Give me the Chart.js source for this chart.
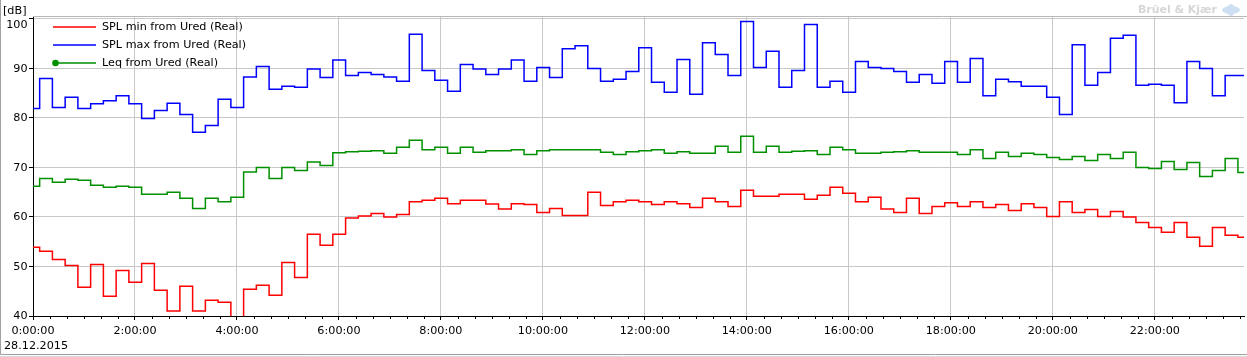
<!DOCTYPE html>
<html>
<head>
<meta charset="utf-8">
<script src="https://cdn.jsdelivr.net/npm/chart.js@4.4.1/dist/chart.umd.min.js"></script>
<style>
  html, body { margin: 0; padding: 0; background: #fff; }
  #wrap { width: 1247px; height: 357px; position: relative; }
</style>
</head>
<body>
<div id="wrap"><canvas id="c"></canvas></div>
<script>
// ---- data ----
const dateLabel = '28.12.2015';
const yUnit = '[dB]';
const seriesNames = ['SPL min from Ured (Real)', 'SPL max from Ured (Real)', 'Leq from Ured (Real)'];
const yTicks = [40, 50, 60, 70, 80, 90, 100];
const xTickLabels = ['0:00:00','2:00:00','4:00:00','6:00:00','8:00:00','10:00:00','12:00:00','14:00:00','16:00:00','18:00:00','20:00:00','22:00:00'];

// interval timing (minutes from 0:00:00)
const firstBoundaryMin = 7.83;
const intervalMin = 15;
const axisEndMin = 1425;

const splMin = [
  53.9, 53.1, 51.4, 50.2, 45.8, 50.4, 44.0, 49.2, 46.8, 50.6, 45.2, 41.0, 46.0, 41.0, 43.2, 42.8, 38.0, 45.4, 46.2, 44.2,
  50.8, 47.8, 56.5, 54.3, 56.5, 59.8, 60.2, 60.7, 60.0, 60.5, 63.1, 63.4, 63.8, 62.7, 63.4, 63.4, 62.6, 61.6, 62.7,
  62.5, 60.9, 61.7, 60.3, 60.3, 65.0, 62.3, 63.1, 63.4, 63.1, 62.5, 63.1, 62.7, 61.9, 63.8, 63.1, 62.1, 65.4, 64.2,
  64.2, 64.6, 64.6, 63.6, 64.4, 66.0, 64.8, 63.1, 64.0, 61.6, 60.9, 63.8, 60.7, 62.1, 62.9, 62.1, 63.1, 61.9, 62.5,
  61.3, 62.7, 61.9, 60.1, 63.1, 60.9, 61.5, 60.1, 61.1, 60.0, 58.9, 57.9, 56.9, 58.9, 55.9, 54.1, 57.9, 56.3, 55.9
];
const splMax = [
  81.9, 88.0, 82.1, 84.2, 81.9, 82.9, 83.5, 84.5, 82.9, 79.9, 81.5, 83.0, 80.7, 77.1, 78.5, 83.8, 82.1, 88.3, 90.4, 85.8,
  86.4, 86.2, 89.9, 88.2, 91.7, 88.6, 89.2, 88.8, 88.3, 87.4, 96.9, 89.6, 87.6, 85.4, 90.8, 89.9, 88.8, 89.9, 91.7,
  87.4, 90.2, 88.2, 94.0, 94.6, 90.0, 87.4, 87.8, 89.4, 94.2, 87.2, 85.2, 91.8, 84.8, 95.2, 92.8, 88.6, 99.5, 90.2,
  93.5, 86.2, 89.6, 98.9, 86.2, 87.4, 85.2, 91.4, 90.2, 90.0, 89.4, 87.2, 88.8, 87.0, 91.4, 87.2, 92.0, 84.5, 87.8,
  87.3, 86.4, 86.4, 84.2, 80.7, 94.8, 86.6, 89.2, 96.1, 96.7, 86.6, 86.8, 86.6, 83.1, 91.4, 90.0, 84.5, 88.6, 88.6
];
const leq = [
  66.2, 67.8, 67.0, 67.6, 67.4, 66.4, 66.0, 66.2, 66.0, 64.6, 64.6, 65.0, 63.8, 61.7, 63.8, 63.1, 64.0, 69.1, 70.0, 67.8,
  70.0, 69.4, 71.1, 70.4, 73.0, 73.2, 73.3, 73.4, 72.9, 74.1, 75.5, 73.6, 74.1, 72.9, 74.1, 73.1, 73.4, 73.4, 73.6,
  72.6, 73.4, 73.6, 73.6, 73.6, 73.6, 73.1, 72.6, 73.2, 73.4, 73.6, 72.9, 73.2, 72.9, 72.9, 74.3, 73.1, 76.3, 73.1,
  74.3, 73.1, 73.3, 73.4, 72.6, 74.1, 73.6, 72.9, 72.9, 73.1, 73.2, 73.4, 73.1, 73.1, 73.1, 72.6, 73.6, 71.8, 73.1,
  72.2, 72.9, 72.6, 72.0, 71.6, 72.2, 71.4, 72.6, 71.8, 73.1, 70.0, 69.8, 71.2, 69.6, 71.0, 68.2, 69.4, 71.8, 69.0
];

// ---- build step points (value held from each start time until the next) ----
function stepPoints(values) {
  const pts = [];
  for (let i = 0; i < values.length; i++) {
    const t = i === 0 ? 0 : firstBoundaryMin + (i - 1) * intervalMin;
    pts.push({ x: t, y: values[i] });
  }
  pts.push({ x: axisEndMin, y: values[values.length - 1] });
  return pts;
}

const colors = ['#ff0000', '#0000ff', '#009000'];
const FONT = 'DejaVu Sans';
const FSIZE = 11.2;

const overlay = {
  id: 'overlay',
  afterDraw(chart) {
    const ctx = chart.ctx;
    const { left, right, top, bottom } = chart.chartArea;
    const xs = chart.scales.x, ys = chart.scales.y;
    ctx.save();
    // top plot border
    ctx.strokeStyle = '#b8b8b8';
    ctx.lineWidth = 1;
    ctx.beginPath(); ctx.moveTo(left, top - 0.5); ctx.lineTo(1247, top - 0.5); ctx.stroke();
    // outer frame
    ctx.strokeStyle = '#a0a0a0';
    ctx.beginPath(); ctx.moveTo(0.5, 0); ctx.lineTo(0.5, 354.5); ctx.lineTo(1247, 354.5); ctx.stroke();
    ctx.strokeStyle = '#d8d8d8';
    ctx.beginPath(); ctx.moveTo(0, 356.5); ctx.lineTo(1247, 356.5); ctx.stroke();

    // minor x ticks (every 20 min)
    ctx.strokeStyle = '#000';
    for (let m = 20; m <= xs.max; m += 20) {
      if (m % 120 === 0) continue;
      const px = Math.round(xs.getPixelForValue(m)) + 0.5;
      ctx.beginPath(); ctx.moveTo(px, bottom); ctx.lineTo(px, bottom + 3); ctx.stroke();
    }

    // y labels
    ctx.fillStyle = '#000';
    ctx.font = FSIZE + 'px "' + FONT + '"';
    ctx.textAlign = 'right';
    ctx.textBaseline = 'middle';
    yTicks.forEach(v => {
      let py = ys.getPixelForValue(v);
      if (py - 6 < top) py = top + 7.5;
      ctx.fillText(String(v), 27.5, py + 0.5);
    });

    // unit & date
    ctx.textAlign = 'left';
    ctx.fillText(yUnit, 3, 11.5);
    ctx.fillText(dateLabel, 4, 346.5);

    // legend
    const ly0 = 26.5, lstep = 18.2;
    seriesNames.forEach((name, i) => {
      const ly = Math.round(ly0 + i * lstep);
      ctx.strokeStyle = colors[i];
      ctx.lineWidth = 1.5;
      ctx.beginPath(); ctx.moveTo(53, ly); ctx.lineTo(96, ly); ctx.stroke();
      if (i === 2) {
        ctx.fillStyle = colors[i];
        ctx.beginPath(); ctx.arc(55.5, ly, 3.3, 0, Math.PI * 2); ctx.fill();
      }
      ctx.fillStyle = '#000';
      ctx.fillText(name, 102, ly + 0.5);
    });

    // faded logo
    const logo = 'Brüel & Kjær';
    ctx.font = 'bold 11px "' + FONT + '"';
    const w = ctx.measureText(logo).width;
    const fs = 11 * 79 / w;
    ctx.font = 'bold ' + fs + 'px "' + FONT + '"';
    ctx.fillStyle = '#d6d6d6';
    ctx.fillText(logo, 1138, 10);
    ctx.fillStyle = '#cfdff3';
    ctx.beginPath(); ctx.ellipse(1231, 10, 9, 4, 0, 0, Math.PI * 2); ctx.fill();
    ctx.beginPath(); ctx.ellipse(1231, 10, 4, 6, 0, 0, Math.PI * 2); ctx.fill();
    ctx.restore();
  }
};

Chart.defaults.font.family = FONT;
Chart.defaults.font.size = FSIZE;
Chart.defaults.color = '#000';

new Chart(document.getElementById('c'), {
  type: 'line',
  data: {
    datasets: [
      { label: seriesNames[0], data: stepPoints(splMin), borderColor: colors[0] },
      { label: seriesNames[1], data: stepPoints(splMax), borderColor: colors[1] },
      { label: seriesNames[2], data: stepPoints(leq), borderColor: colors[2] }
    ].map(d => Object.assign(d, { stepped: true, borderWidth: 1.5, pointRadius: 0, fill: false, tension: 0 }))
  },
  options: {
    responsive: true,
    maintainAspectRatio: false,
    animation: false,
    events: [],
    layout: { padding: { top: 17, right: 3, bottom: 0, left: 0 } },
    plugins: { legend: { display: false }, tooltip: { enabled: false } },
    scales: {
      x: {
        type: 'linear',
        min: 0,
        max: axisEndMin,
        afterFit(s) { s.height = 41; },
        grid: { color: '#c8c8c8', lineWidth: 1, tickColor: '#000', tickLength: 4, drawTicks: true },
        border: { display: true, color: '#000', width: 1 },
        ticks: {
          stepSize: 120,
          includeBounds: false,
          autoSkip: false,
          maxRotation: 0,
          padding: 4,
          color: '#000',
          callback: (v) => xTickLabels[Math.round(v / 120)] || ''
        }
      },
      y: {
        min: 40,
        max: 100.4,
        afterFit(s) { s.width = 33; },
        grid: { color: '#c8c8c8', lineWidth: 1, tickColor: '#000', tickLength: 4, drawTicks: true },
        border: { display: true, color: '#000', width: 1 },
        ticks: { stepSize: 10, includeBounds: false, display: false }
      }
    }
  },
  plugins: [overlay]
});
</script>
</body>
</html>
